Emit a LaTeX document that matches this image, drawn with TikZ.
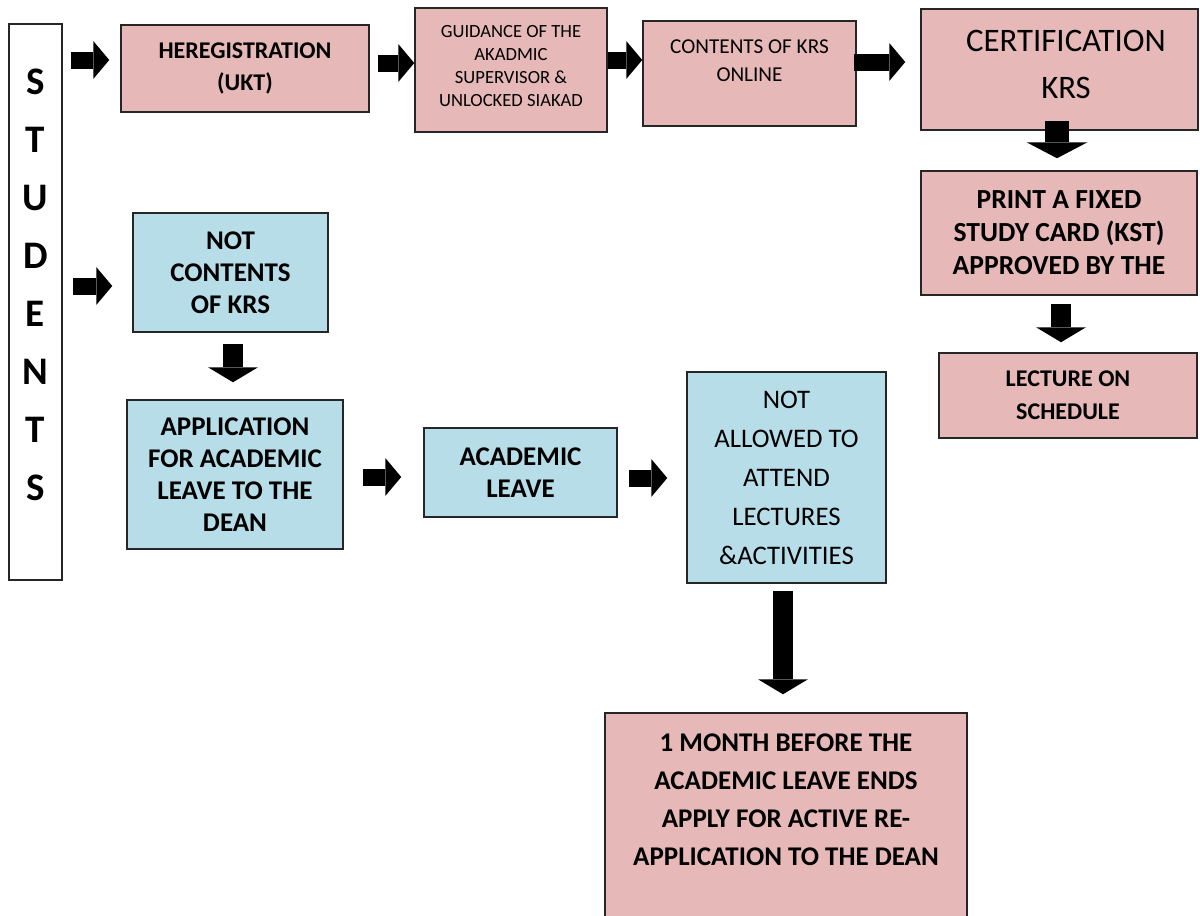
\documentclass[tikz,border=0pt]{standalone}
\usepackage{fontspec}
\setmainfont{Carlito}
\usetikzlibrary{arrows.meta}
\definecolor{boxpink}{HTML}{E6B9B8}
\definecolor{boxblue}{HTML}{B7DEE8}

\begin{document}
\begin{tikzpicture}[x=0.5pt, y=-0.5pt,
    box/.style={draw=black!85, line width=0.75pt, inner sep=0pt, align=center},
    pinkbox/.style={box, fill=boxpink},
    bluebox/.style={box, fill=boxblue},
    boldtext/.style={font=\fontsize{13.5}{16}\selectfont\bfseries},
    plaintext/.style={font=\fontsize{13.4}{19.5}\selectfont},
    hblock/.style={line width=8.5pt, -{Triangle[width=19pt,length=8pt,line width=0pt]}},
    vblock/.style={line width=10pt, -{Triangle[width=25pt,length=7.5pt,line width=0pt]}},
    bigblock/.style={line width=12pt, -{Triangle[width=30.5pt,length=8pt,line width=0pt]}}]
      \useasboundingbox (0,0) rectangle (1200,916);
      % students column
      \node[box, minimum width=26.5pt, minimum height=278pt] (students) at (35.5,302) {};
      \node[font=\fontsize{19.5}{29}\selectfont\bfseries, align=center] (studentstext) at (35.5,285) {S\\T\\U\\D\\E\\N\\T\\S};
      % upper row
      \node[pinkbox, font=\fontsize{12}{16}\selectfont\bfseries, minimum width=124pt, minimum height=43.5pt] (reg) at (245,68.5) {HEREGISTRATION\\(UKT)};
      \node[pinkbox, minimum width=96pt, minimum height=62pt] (guid) at (511,70) {};
      \node[font=\fontsize{9.3}{11.5}\selectfont, align=center] (guidtext) at (511,66) {GUIDANCE OF THE\\AKADMIC\\SUPERVISOR \&\\UNLOCKED SIAKAD};
      \node[pinkbox, minimum width=106.5pt, minimum height=52.5pt] (krs) at (749.5,73.5) {};
      \node[font=\fontsize{10.6}{14}\selectfont, align=center] (krstext) at (749.5,61) {CONTENTS OF KRS\\ONLINE};
      \node[pinkbox, minimum width=138.5pt, minimum height=60.5pt] (cert) at (1059.5,69.5) {};
      \node[font=\fontsize{16.4}{23.5}\selectfont, align=center] (certtext) at (1066,64) {CERTIFICATION\\KRS};
      \node[pinkbox, font=\fontsize{13.8}{16.5}\selectfont\bfseries, minimum width=138pt, minimum height=62pt] (print) at (1059,233) {PRINT A FIXED\\STUDY CARD (KST)\\APPROVED BY THE};
      \node[pinkbox, font=\fontsize{12}{16.5}\selectfont\bfseries, minimum width=129pt, minimum height=42.5pt] (lecture) at (1068,395.5) {LECTURE ON\\SCHEDULE};
      % lower row
      \node[bluebox, boldtext, minimum width=97.5pt, minimum height=59.5pt] (notkrs) at (230.5,272.5) {NOT\\CONTENTS\\OF KRS};
      \node[bluebox, boldtext, minimum width=108pt, minimum height=74.5pt] (apply) at (235,474.5) {APPLICATION\\FOR ACADEMIC\\LEAVE TO THE\\DEAN};
      \node[bluebox, boldtext, minimum width=96.5pt, minimum height=44.5pt] (leave) at (520.5,472.5) {ACADEMIC\\LEAVE};
      \node[bluebox, plaintext, minimum width=99.5pt, minimum height=105.5pt] (notallowed) at (786.5,477.5) {NOT\\ALLOWED TO\\ATTEND\\LECTURES\\\&ACTIVITIES};
      \node[pinkbox, minimum width=181pt, minimum height=103pt] (month) at (786,816) {};
      \node[font=\fontsize{13.5}{19}\selectfont\bfseries, align=center] (monthtext) at (786,799.5) {1 MONTH BEFORE THE\\ACADEMIC LEAVE ENDS\\APPLY FOR ACTIVE RE-\\APPLICATION TO THE DEAN};
      % block arrows
      \draw[hblock, shorten <=4pt, shorten >=5.5pt] (students.east |- 0,60) -- (reg.west |- 0,60);
      \draw[hblock, shorten <=4pt] (reg.east |- 0,63) -- (guid.west |- 0,63);
      \draw[hblock] (guid.east |- 0,60) -- (krs.west |- 0,60);
      \draw[hblock, shorten <=-1.5pt, shorten >=7.5pt] (krs.east |- 0,62) -- (cert.west |- 0,62);
      \draw[bigblock, shorten <=-5pt, shorten >=6pt] (cert.south -| 1057,0) -- (print.north -| 1057,0);
      \draw[vblock, shorten <=4pt, shorten >=5pt] (print.south -| 1061,0) -- (lecture.north -| 1061,0);
      \draw[hblock, shorten <=5pt, shorten >=10pt] (students.east |- 0,286) -- (notkrs.west |- 0,286);
      \draw[vblock, shorten <=5.5pt, shorten >=8.5pt] (notkrs.south -| 233,0) -- (apply.north -| 233,0);
      \draw[hblock, shorten <=9.5pt, shorten >=11pt] (apply.east |- 0,477) -- (leave.west |- 0,477);
      \draw[hblock, shorten <=5.5pt, shorten >=9.5pt] (leave.east |- 0,478) -- (notallowed.west |- 0,478);
      \draw[vblock, shorten <=3.5pt, shorten >=9pt] (notallowed.south -| 783,0) -- (month.north -| 783,0);
\end{tikzpicture}
\end{document}
